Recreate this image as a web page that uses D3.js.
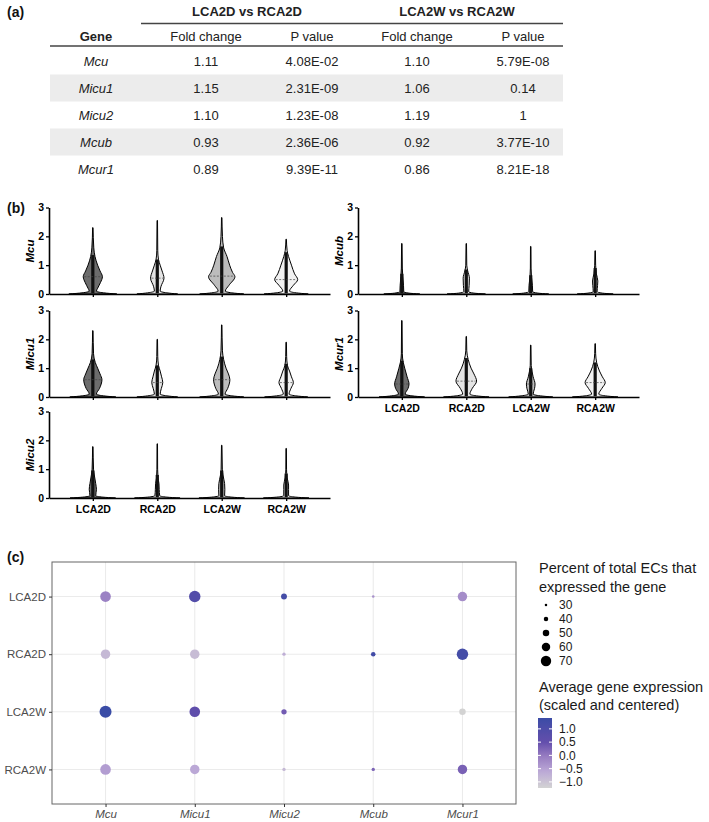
<!DOCTYPE html>
<html>
<head>
<meta charset="utf-8">
<script src="https://cdn.jsdelivr.net/npm/d3@7"></script>
<style>
  body { margin: 0; background: #fff; }
  svg { display: block; font-family: "Liberation Sans", Arial, Helvetica, sans-serif; }
</style>
</head>
<body>
<script>
// ---- shared categories
var groups = ["LCA2D", "RCA2D", "LCA2W", "RCA2W"];
var genes = ["Mcu", "Micu1", "Micu2", "Mcub", "Mcur1"];

// ---- (a) table values
var foldDay = [1.11, 1.15, 1.10, 0.93, 0.89];
var pDay = ["4.08E-02", "2.31E-09", "1.23E-08", "2.36E-06", "9.39E-11"];
var foldWeek = [1.10, 1.06, 1.19, 0.92, 0.86];
var pWeek = ["5.79E-08", "0.14", "1", "3.77E-10", "8.21E-18"];

// ---- (b) violin density knots [expression, relative density], one list per group
var knotsMcu = [
  [[0,1],[0.04,0.45],[0.1,0.15],[0.2,0.2],[0.4,0.32],[0.6,0.4],[0.8,0.3],[1.0,0.2],[1.3,0.09],[1.6,0.04],[2.3,0.01]],
  [[0,0.85],[0.04,0.4],[0.1,0.12],[0.25,0.15],[0.55,0.28],[0.8,0.2],[1.0,0.12],[1.2,0.05],[1.5,0.02],[2.55,0.01]],
  [[0,0.92],[0.04,0.42],[0.1,0.15],[0.3,0.3],[0.6,0.55],[0.75,0.45],[1.0,0.33],[1.3,0.22],[1.6,0.08],[2.0,0.03],[2.65,0.01]],
  [[0,0.92],[0.04,0.42],[0.1,0.14],[0.3,0.3],[0.5,0.48],[0.7,0.35],[1.0,0.22],[1.3,0.1],[1.5,0.04],[1.9,0.01]]
];
var knotsMicu1 = [
  [[0,0.96],[0.04,0.44],[0.1,0.15],[0.3,0.28],[0.6,0.38],[0.8,0.3],[1.0,0.2],[1.2,0.1],[1.5,0.03],[2.3,0.01]],
  [[0,0.85],[0.04,0.4],[0.1,0.12],[0.3,0.17],[0.5,0.23],[0.7,0.18],[0.9,0.12],[1.1,0.05],[1.4,0.02],[2.0,0.01]],
  [[0,0.92],[0.04,0.42],[0.1,0.14],[0.3,0.25],[0.6,0.34],[0.8,0.28],[1.0,0.18],[1.3,0.08],[1.6,0.03],[2.5,0.01]],
  [[0,0.9],[0.04,0.4],[0.1,0.12],[0.3,0.2],[0.5,0.3],[0.7,0.22],[0.9,0.14],[1.1,0.05],[1.4,0.02],[1.9,0.01]]
];
var knotsMicu2 = [
  [[0,0.95],[0.03,0.42],[0.08,0.12],[0.3,0.15],[0.5,0.12],[0.8,0.06],[1.0,0.03],[1.78,0.01]],
  [[0,0.95],[0.03,0.4],[0.08,0.1],[0.3,0.08],[0.5,0.07],[0.7,0.03],[1.0,0.015],[1.88,0.01]],
  [[0,0.95],[0.03,0.42],[0.08,0.12],[0.3,0.13],[0.5,0.12],[0.8,0.05],[1.0,0.025],[1.83,0.01]],
  [[0,0.95],[0.03,0.4],[0.08,0.1],[0.3,0.1],[0.45,0.1],[0.7,0.04],[1.0,0.015],[1.72,0.01]]
];
var knotsMcub = [
  [[0,0.75],[0.03,0.3],[0.08,0.08],[0.3,0.07],[0.6,0.04],[0.9,0.02],[1.75,0.01]],
  [[0,0.8],[0.03,0.32],[0.08,0.1],[0.3,0.12],[0.55,0.13],[0.8,0.06],[1.0,0.02],[1.75,0.01]],
  [[0,0.75],[0.03,0.3],[0.08,0.08],[0.3,0.07],[0.6,0.03],[0.9,0.015],[1.65,0.01]],
  [[0,0.75],[0.03,0.3],[0.08,0.08],[0.3,0.1],[0.45,0.11],[0.7,0.05],[1.0,0.02],[1.5,0.01]]
];
var knotsMcur1 = [
  [[0,0.95],[0.04,0.42],[0.1,0.14],[0.3,0.26],[0.45,0.3],[0.7,0.22],[1.0,0.12],[1.2,0.06],[1.5,0.02],[2.65,0.01]],
  [[0,0.95],[0.04,0.42],[0.1,0.15],[0.3,0.25],[0.55,0.43],[0.8,0.32],[1.0,0.2],[1.3,0.08],[1.6,0.02],[2.1,0.01]],
  [[0,0.92],[0.04,0.4],[0.1,0.1],[0.3,0.16],[0.45,0.18],[0.7,0.1],[0.9,0.05],[1.1,0.02],[1.8,0.01]],
  [[0,0.95],[0.04,0.42],[0.1,0.15],[0.3,0.28],[0.5,0.42],[0.7,0.3],[0.9,0.18],[1.2,0.06],[1.5,0.02],[1.85,0.01]]
];
// median and top of the dense jittered-dot band, per gene (rows) and group (cols)
var violinMedian = [[0.6,0.55,0.62,0.5],[0.6,0.5,0.6,0.5],[0.35,0.4,0.4,0.4],[0.3,0.5,0.3,0.45],[0.45,0.55,0.45,0.5]];
var violinDotTop = [[1.35,1.2,1.65,1.45],[1.3,1.1,1.4,1.15],[0.95,0.8,0.95,0.85],[0.7,0.85,0.65,0.9],[1.25,1.35,1.0,1.2]];

// ---- (c) dot plot: percent expressing, and scaled average expression (per group)
var pctMcu = [71, 65, 78, 71];
var pctMicu1 = [75, 65, 71, 65];
var pctMicu2 = [47, 34, 44, 34];
var pctMcub = [30, 40, 17, 34];
var pctMcur1 = [65, 75, 50, 65];
var expMcu = [-0.1, -0.85, 1.41, -0.46];
var expMicu1 = [0.9, -0.9, 0.6, -0.6];
var expMicu2 = [1.2, -0.7, 0.35, -0.85];
var expMcub = [-0.3, 1.25, -1.2, 0.25];
var expMcur1 = [-0.25, 1.2, -1.23, 0.28];
var sizeBreaks = [30, 40, 50, 60, 70];
var colourBreaks = [1.0, 0.5, 0.0, -0.5, -1.0];

var knotsByGene = [knotsMcu, knotsMicu1, knotsMicu2, knotsMcub, knotsMcur1];
var pctByGene = [pctMcu, pctMicu1, pctMicu2, pctMcub, pctMcur1];
var expByGene = [expMcu, expMicu1, expMicu2, expMcub, expMcur1];

var textCol = "#1a1a1a";
var svg = d3.select("body").append("svg").attr("width", 709).attr("height", 822);

function panelTag(label, x, y){
  svg.append("text").attr("x", x).attr("y", y).attr("font-size", 14).attr("font-weight", "bold")
     .attr("fill", "#111").text(label);
}

// ================= (a) table =================
function drawTable(){
  panelTag("(a)", 7, 17);
  var cols = {gene: 96, fc1: 206, p1: 312, fc2: 417, p2: 523};
  var rowY = d3.scaleBand().domain(genes).range([47.5, 182.5]);
  var g = svg.append("g").attr("font-size", 13).attr("fill", "#222").attr("text-anchor", "middle");

  g.selectAll("rect.shade").data(genes.filter(function(d, i){ return i % 2 == 1; }))
    .enter().append("rect")
    .attr("x", 50).attr("width", 513)
    .attr("y", function(d){ return rowY(d); }).attr("height", rowY.bandwidth())
    .attr("fill", "#ececec");

  g.append("text").attr("x", 247).attr("y", 16).attr("font-weight", "bold").text("LCA2D vs RCA2D");
  g.append("text").attr("x", 457).attr("y", 16).attr("font-weight", "bold").text("LCA2W vs RCA2W");
  g.append("line").attr("x1", 141).attr("x2", 563).attr("y1", 23.5).attr("y2", 23.5).attr("stroke", "#444").attr("stroke-width", 1.3);
  g.append("text").attr("x", cols.gene).attr("y", 41).attr("font-weight", "bold").text("Gene");
  [["Fold change", cols.fc1], ["P value", cols.p1], ["Fold change", cols.fc2], ["P value", cols.p2]].forEach(function(h){
    g.append("text").attr("x", h[1]).attr("y", 41).text(h[0]);
  });
  g.append("line").attr("x1", 50).attr("x2", 563).attr("y1", 46).attr("y2", 46).attr("stroke", "#444").attr("stroke-width", 1.3);

  var fmt = d3.format(".2f");
  genes.forEach(function(gene, i){
    var yy = rowY(gene) + rowY.bandwidth() / 2 + 4.5;
    g.append("text").attr("x", cols.gene).attr("y", yy).attr("font-style", "italic").text(gene);
    g.append("text").attr("x", cols.fc1).attr("y", yy).text(fmt(foldDay[i]));
    g.append("text").attr("x", cols.p1).attr("y", yy).text(pDay[i]);
    g.append("text").attr("x", cols.fc2).attr("y", yy).text(fmt(foldWeek[i]));
    g.append("text").attr("x", cols.p2).attr("y", yy).text(pWeek[i]);
  });
}

// ================= (b) violins =================
var violinFill = ["#6c6c6c", "#e4e4e4", "#bcbcbc", "#f1f1f1"];

function drawViolinPanel(gi, left, y0, showLabels){
  var yScale = d3.scaleLinear().domain([0, 3]).range([y0, y0 - 86.5]);
  var xScale = d3.scalePoint().domain(groups).range([0, 281]).padding(0.68);
  var wScale = d3.scaleLinear().domain([0, 1]).range([0, 24]);
  var g = svg.append("g").attr("transform", "translate(" + left + ",0)");

  knotsByGene[gi].forEach(function(knots, k){
    var cx = xScale(groups[k]);
    var area = d3.area().curve(d3.curveMonotoneY)
      .y(function(d){ return yScale(d[0]); })
      .x0(function(d){ return cx - wScale(d[1]); })
      .x1(function(d){ return cx + wScale(d[1]); });
    g.append("path").datum(knots).attr("d", area)
      .attr("fill", violinFill[k]).attr("stroke", "#000").attr("stroke-width", 1);

    // dense band of jittered points
    var top = violinDotTop[gi][k];
    g.append("rect").attr("x", cx - 1.6).attr("width", 3.2)
      .attr("y", yScale(top)).attr("height", yScale(0.03) - yScale(top))
      .attr("fill", "#111");

    // dashed median line
    var dens = d3.scaleLinear().domain(knots.map(function(d){ return d[0]; })).range(knots.map(function(d){ return d[1]; }));
    var med = violinMedian[gi][k];
    var hw = wScale(dens(med)) - 1;
    if(hw > 3){
      g.append("line").attr("x1", cx - hw).attr("x2", cx + hw)
        .attr("y1", yScale(med)).attr("y2", yScale(med))
        .attr("stroke", "#444").attr("stroke-width", 0.7).attr("stroke-dasharray", "2,1.5");
    }
  });

  var yAxis = g.append("g").call(d3.axisLeft(yScale).tickValues([0, 1, 2, 3]).tickSize(3).tickSizeOuter(0).tickFormat(d3.format("d")));
  var xAxis = g.append("g").attr("transform", "translate(0," + y0 + ")")
    .call(d3.axisBottom(xScale).tickSize(3).tickSizeOuter(0));
  [yAxis, xAxis].forEach(function(a){
    a.select(".domain").attr("stroke", "#000").attr("stroke-width", 1.6);
    a.selectAll(".tick line").attr("stroke", "#000").attr("stroke-width", 1.3);
    a.selectAll("text").attr("font-family", "\"Liberation Sans\", Arial, sans-serif")
      .attr("font-weight", "bold").attr("font-size", 10.5).attr("fill", "#000");
  });
  yAxis.selectAll("text").attr("x", -5);
  if(showLabels){
    xAxis.selectAll("text").attr("y", 8);
  } else {
    xAxis.selectAll("text").remove();
  }

  g.append("text").attr("transform", "translate(-15," + (y0 - 43) + ") rotate(-90)")
    .attr("text-anchor", "middle").attr("font-size", 11.5).attr("font-weight", "bold")
    .attr("font-style", "italic").attr("fill", "#000").text(genes[gi]);
}

// ================= (c) dot plot =================
function drawDotPlot(){
  panelTag("(c)", 7, 562);
  var px0 = 52, px1 = 516, py0 = 562, py1 = 804;
  var x = d3.scalePoint().domain(genes).range([px0, px1]).padding(0.6);
  var y = d3.scalePoint().domain(groups).range([py0, py1]).padding(0.6);

  var allPct = d3.merge(pctByGene), allExp = d3.merge(expByGene);
  var r = d3.scaleLinear().domain(d3.extent(allPct)).range([0, 6]);
  var eExt = d3.extent(allExp);
  var colour = d3.scaleLinear()
    .domain([eExt[0], -0.6, 0.0, 0.5, eExt[1]])
    .range(["#d3d3d3", "#bba8d6", "#957ac0", "#634eac", "#3a4ca6"])
    .interpolate(d3.interpolateLab);

  var g = svg.append("g");
  g.selectAll("line.vg").data(genes).enter().append("line")
    .attr("x1", function(d){ return x(d); }).attr("x2", function(d){ return x(d); })
    .attr("y1", py0).attr("y2", py1).attr("stroke", "#ebebeb").attr("stroke-width", 1.1);
  g.selectAll("line.hg").data(groups).enter().append("line")
    .attr("y1", function(d){ return y(d); }).attr("y2", function(d){ return y(d); })
    .attr("x1", px0).attr("x2", px1).attr("stroke", "#ebebeb").attr("stroke-width", 1.1);

  var cells = [];
  genes.forEach(function(gene, i){
    groups.forEach(function(grp, k){
      cells.push({gene: gene, group: grp, pct: pctByGene[i][k], exp: expByGene[i][k]});
    });
  });
  g.selectAll("circle").data(cells).enter().append("circle")
    .attr("cx", function(d){ return x(d.gene); })
    .attr("cy", function(d){ return y(d.group); })
    .attr("r", function(d){ return r(d.pct); })
    .attr("fill", function(d){ return colour(d.exp); });

  g.append("rect").attr("x", px0).attr("y", py0).attr("width", px1 - px0).attr("height", py1 - py0)
    .attr("fill", "none").attr("stroke", "#666").attr("stroke-width", 1);

  var ya = g.append("g").attr("transform", "translate(" + px0 + ",0)").call(d3.axisLeft(y).tickSize(3));
  var xa = g.append("g").attr("transform", "translate(0," + py1 + ")").call(d3.axisBottom(x).tickSize(3));
  [ya, xa].forEach(function(a){
    a.select(".domain").remove();
    a.selectAll(".tick line").attr("stroke", "#333");
    a.selectAll("text").attr("font-family", "\"Liberation Sans\", Arial, sans-serif")
      .attr("font-size", 11.5).attr("fill", "#4d4d4d");
  });
  ya.selectAll("text").attr("x", -6);
  xa.selectAll("text").attr("font-style", "italic").attr("y", 6);

  // size legend
  var lg = svg.append("g").attr("fill", textCol).attr("font-size", 14.5);
  lg.append("text").attr("x", 539).attr("y", 573).text("Percent of total ECs that");
  lg.append("text").attr("x", 539).attr("y", 592).text("expressed the gene");
  var ly = d3.scalePoint().domain(sizeBreaks).range([605, 661]);
  sizeBreaks.forEach(function(b){
    lg.append("circle").attr("cx", 546).attr("cy", ly(b)).attr("r", r(b)).attr("fill", "#000");
    lg.append("text").attr("x", 559).attr("y", ly(b) + 4.3).attr("font-size", 12).text(b);
  });

  // colour legend
  lg.append("text").attr("x", 539).attr("y", 692).text("Average gene expression");
  lg.append("text").attr("x", 539).attr("y", 710).text("(scaled and centered)");
  var cb = d3.scaleLinear().domain(eExt).range([788, 718]);
  var grad = svg.append("defs").append("linearGradient").attr("id", "cbar")
    .attr("x1", 0).attr("y1", 1).attr("x2", 0).attr("y2", 0);
  d3.range(0, 1.0001, 0.05).forEach(function(t){
    grad.append("stop").attr("offset", t).attr("stop-color", colour(eExt[0] + t * (eExt[1] - eExt[0])));
  });
  lg.append("rect").attr("x", 538).attr("y", 718).attr("width", 14).attr("height", 70).attr("fill", "url(#cbar)");
  colourBreaks.forEach(function(b){
    lg.append("line").attr("x1", 538).attr("x2", 541).attr("y1", cb(b)).attr("y2", cb(b)).attr("stroke", "#fff");
    lg.append("line").attr("x1", 549).attr("x2", 552).attr("y1", cb(b)).attr("y2", cb(b)).attr("stroke", "#fff");
    lg.append("text").attr("x", 559).attr("y", cb(b) + 4.3).attr("font-size", 12)
      .text(d3.format(".1f")(b).replace("-", "\u2212"));
  });
}

drawTable();
panelTag("(b)", 7, 213);
drawViolinPanel(0, 49, 294, false);
drawViolinPanel(1, 49, 397, false);
drawViolinPanel(2, 49, 498, true);
drawViolinPanel(3, 358, 294, false);
drawViolinPanel(4, 358, 397, true);
drawDotPlot();
</script>
</body>
</html>
